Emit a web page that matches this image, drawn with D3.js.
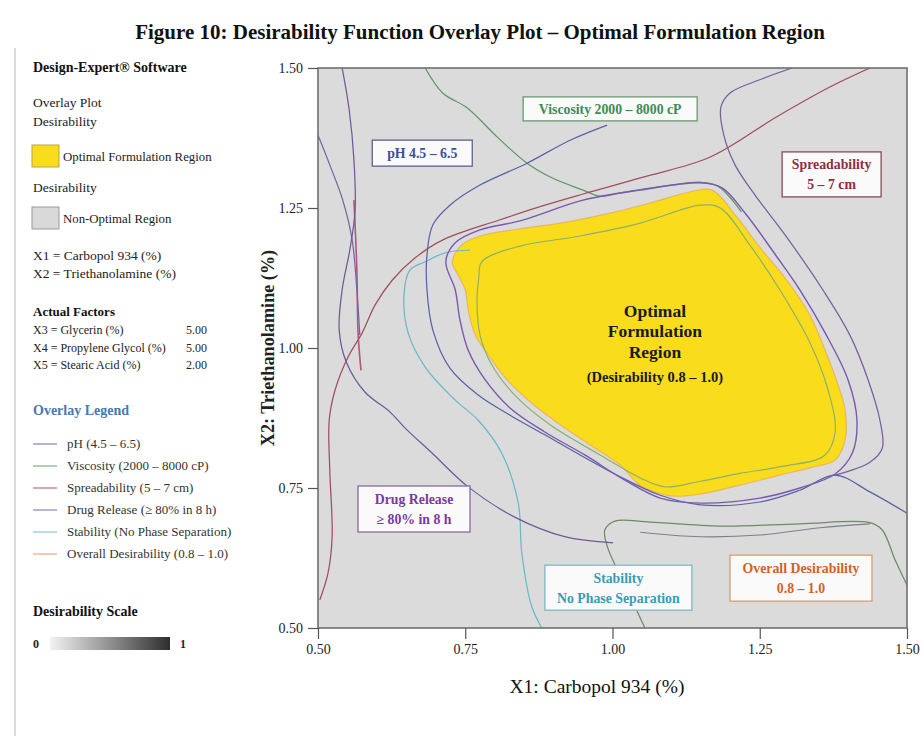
<!DOCTYPE html>
<html><head><meta charset="utf-8">
<script src="https://cdn.jsdelivr.net/npm/d3@7"></script>
<style>
body{margin:0;background:#fff;}
svg{display:block;font-family:"Liberation Serif","Times New Roman",serif;}
</style>
</head><body>
<svg id="chart" width="924" height="736"></svg>
<script>
// ---------- DATA ----------
const xTicks = [0.50, 0.75, 1.00, 1.25, 1.50];
const yTicks = [0.50, 0.75, 1.00, 1.25, 1.50];

// Optimal region (overall desirability 0.8 - 1.0), closed boundary [X1, X2]
const optimalRegion = [[0.728,1.154],[0.744,1.184],[0.775,1.200],[0.843,1.213],[0.911,1.223],[0.996,1.241],[1.064,1.259],[1.132,1.279],[1.169,1.282],[1.211,1.234],[1.250,1.180],[1.296,1.121],[1.335,1.059],[1.361,0.996],[1.383,0.934],[1.395,0.889],[1.395,0.836],[1.378,0.800],[1.335,0.786],[1.284,0.773],[1.216,0.755],[1.149,0.739],[1.098,0.736],[1.047,0.755],[1.013,0.791],[0.962,0.827],[0.911,0.863],[0.860,0.904],[0.817,0.948],[0.789,0.988],[0.767,1.023],[0.755,1.068],[0.750,1.104],[0.738,1.130]];

// pH 4.5 - 6.5 contours
const phMain = [[0.991,1.398],[0.928,1.371],[0.855,1.330],[0.775,1.291],[0.724,1.255],[0.695,1.220],[0.685,1.166],[0.685,1.104],[0.695,1.032],[0.724,0.964],[0.772,0.916],[0.826,0.880],[0.885,0.845],[0.945,0.809],[1.013,0.770],[1.081,0.737],[1.149,0.720],[1.250,0.725],[1.318,0.746],[1.378,0.773],[1.437,0.743],[1.500,0.705]];
const phLeft = [[0.500,1.380],[0.520,1.327],[0.542,1.264],[0.558,1.193],[0.566,1.104],[0.571,1.023]];
const phLower = [[1.047,0.671],[1.149,0.663],[1.250,0.666],[1.352,0.679],[1.437,0.686]];

// Viscosity 2000 - 8000 cP contours
const viscosityTop = [[0.682,1.500],[0.712,1.455],[0.753,1.429],[0.804,1.377],[0.855,1.330],[0.897,1.304],[0.950,1.282],[0.979,1.271],[1.013,1.277],[1.081,1.288],[1.149,1.296],[1.179,1.289],[1.219,1.243]];
const viscosityLower = [[1.055,0.500],[1.021,0.577],[0.992,0.643],[0.987,0.675],[1.004,0.691],[1.064,0.689],[1.183,0.682],[1.318,0.686],[1.437,0.688],[1.458,0.675],[1.480,0.621],[1.500,0.577]];
const viscosityInner = [[0.778,1.154],[0.843,1.182],[0.945,1.200],[1.047,1.223],[1.149,1.255],[1.183,1.250],[1.233,1.184],[1.284,1.104],[1.335,1.010],[1.366,0.925],[1.378,0.850],[1.360,0.808],[1.290,0.789],[1.216,0.776],[1.149,0.762],[1.089,0.752],[1.047,0.768],[0.979,0.809],[0.894,0.863],[0.834,0.916],[0.795,0.970],[0.775,1.023],[0.770,1.086],[0.773,1.125]];

// Spreadability 5 - 7 cm contours
const spreadMain = [[0.503,0.550],[0.517,0.598],[0.524,0.663],[0.520,0.782],[0.519,0.871],[0.529,0.925],[0.551,0.984],[0.575,1.027],[0.597,1.077],[0.626,1.121],[0.665,1.161],[0.712,1.193],[0.809,1.229],[0.885,1.255],[0.950,1.275],[1.052,1.305],[1.166,1.341],[1.279,1.413],[1.369,1.466],[1.437,1.500]];
const spreadLeft = [[0.561,1.264],[0.566,1.139],[0.568,1.027],[0.573,0.960]];

// Drug release >= 80 % in 8 h contours
const drugLeft = [[0.541,1.500],[0.553,1.425],[0.561,1.336],[0.563,1.246],[0.554,1.175],[0.541,1.104],[0.536,1.032],[0.548,0.975],[0.580,0.921],[0.622,0.886],[0.648,0.857],[0.694,0.812],[0.755,0.752],[0.834,0.698],[0.919,0.663],[1.001,0.652]];
const drugRight = [[1.305,1.500],[1.250,1.479],[1.199,1.455],[1.184,1.430],[1.189,1.380],[1.208,1.327],[1.242,1.273],[1.293,1.202],[1.357,1.104],[1.403,1.023],[1.434,0.943],[1.454,0.871],[1.458,0.821],[1.437,0.796],[1.378,0.773]];
const drugRing = [[0.717,1.154],[0.733,1.188],[0.775,1.211],[0.843,1.227],[0.950,1.264],[1.047,1.282],[1.149,1.295],[1.186,1.286],[1.225,1.241],[1.279,1.163],[1.318,1.104],[1.361,1.027],[1.400,0.943],[1.415,0.871],[1.407,0.812],[1.378,0.775],[1.318,0.750],[1.250,0.732],[1.149,0.723],[1.081,0.732],[1.021,0.764],[0.953,0.809],[0.885,0.850],[0.826,0.893],[0.784,0.943],[0.755,0.996],[0.741,1.050],[0.733,1.104]];

// Stability (no phase separation) contour
const stabilityMain = [[0.758,1.175],[0.716,1.170],[0.682,1.154],[0.656,1.139],[0.646,1.095],[0.653,1.027],[0.682,0.966],[0.733,0.907],[0.772,0.871],[0.812,0.812],[0.840,0.723],[0.846,0.634],[0.863,0.538],[0.880,0.500]];

// Legend entries
const legendNames = ["pH (4.5 \u2013 6.5)","Viscosity (2000 \u2013 8000 cP)","Spreadability (5 \u2013 7 cm)","Drug Release (\u2265 80% in 8 h)","Stability (No Phase Separation)","Overall Desirability (0.8 \u2013 1.0)"];
const actualFactors = [["X3 = Glycerin (%)","5.00"],["X4 = Propylene Glycol (%)","5.00"],["X5 = Stearic Acid (%)","2.00"]];

// ---------- STYLE ----------
const colors = {ph:"#5a62a4", visc:"#5e9868", spread:"#a14e5c", drug:"#7a58b0", stab:"#6cb8c6", overall:"#e8905a"};
const legendColors = [colors.ph, colors.visc, colors.spread, colors.drug, colors.stab, colors.overall];

const svg = d3.select("#chart");
const m = {l:318, r:907, t:68, b:628};
const x = d3.scaleLinear().domain([0.5,1.5]).range([m.l, m.r]);
const y = d3.scaleLinear().domain([0.5,1.5]).range([m.b, m.t]);

// title
svg.append("text").attr("x",480).attr("y",39).attr("text-anchor","middle")
  .attr("font-size",21).attr("font-weight","bold").attr("fill","#111")
  .text("Figure 10: Desirability Function Overlay Plot \u2013 Optimal Formulation Region");

// left panel frame line
svg.append("line").attr("x1",15).attr("x2",15).attr("y1",48).attr("y2",736).attr("stroke","#cfcfcf").attr("stroke-width",1.5);

// plot background
svg.append("clipPath").attr("id","plotclip").append("rect").attr("x",m.l).attr("y",m.t).attr("width",m.r-m.l).attr("height",m.b-m.t);
svg.append("rect").attr("x",m.l).attr("y",m.t).attr("width",m.r-m.l).attr("height",m.b-m.t).attr("fill","#dbdbdb");

const g = svg.append("g").attr("clip-path","url(#plotclip)");
const lineOpen = d3.line().x(d=>x(d[0])).y(d=>y(d[1])).curve(d3.curveCatmullRom.alpha(0.5));
const lineClosed = d3.line().x(d=>x(d[0])).y(d=>y(d[1])).curve(d3.curveCatmullRomClosed.alpha(0.5));

// optimal region fill
g.append("path").attr("d",lineClosed(optimalRegion)).attr("fill","#f9dc1c").attr("stroke",colors.overall).attr("stroke-opacity",0.5).attr("stroke-width",1.2);

function drawOpen(data,color,w=1.25){g.append("path").attr("d",lineOpen(data)).attr("fill","none").attr("stroke",color).attr("stroke-width",w).attr("stroke-linejoin","round");}
function drawClosed(data,color,w=1.25){g.append("path").attr("d",lineClosed(data)).attr("fill","none").attr("stroke",color).attr("stroke-width",w);}

drawClosed(viscosityInner, "#8fb06a", 1.2);
drawOpen(viscosityTop, colors.visc);
drawOpen(viscosityLower, "#6f8a66");
drawOpen(phLower, "#7d7f8a", 1.1);
drawOpen(stabilityMain, colors.stab);
drawOpen(spreadMain, colors.spread);
drawOpen(spreadLeft, "#b2577e", 1.6);
drawOpen(phLeft, "#7066a6");
drawOpen(phMain, colors.ph);
drawOpen(drugLeft, "#6e5a98");
drawOpen(drugRight, "#76609e");
drawClosed(drugRing, colors.drug, 1.4);

// frame
svg.append("rect").attr("x",m.l).attr("y",m.t).attr("width",m.r-m.l).attr("height",m.b-m.t)
  .attr("fill","none").attr("stroke","#707070").attr("stroke-width",1.6);

// axes
const xAxis = svg.append("g").attr("transform",`translate(0,${m.b})`)
  .call(d3.axisBottom(x).tickValues(xTicks).tickFormat(d3.format(".2f")).tickSize(11).tickSizeOuter(0).tickPadding(5));
const yAxis = svg.append("g").attr("transform",`translate(${m.l},0)`)
  .call(d3.axisLeft(y).tickValues(yTicks).tickFormat(d3.format(".2f")).tickSize(10).tickSizeOuter(0).tickPadding(5));
[xAxis,yAxis].forEach(a=>{
  a.select(".domain").remove();
  a.selectAll(".tick line").attr("stroke","#555").attr("stroke-width",1.2);
  a.selectAll(".tick text").attr("font-family","Liberation Serif, serif").attr("font-size",14).attr("fill","#222");
});
yAxis.selectAll(".tick text").attr("dy","0.35em");

svg.append("text").attr("x",597).attr("y",693).attr("text-anchor","middle").attr("font-size",19.5).attr("fill","#111").text("X1: Carbopol 934 (%)");
svg.append("text").attr("transform","translate(274,348) rotate(-90)").attr("text-anchor","middle").attr("font-size",18.2).attr("font-weight","bold").attr("fill","#222").text("X2: Triethanolamine (%)");

// annotation boxes (centres in data units)
const annotations = [
  {lines:["pH 4.5 \u2013 6.5"], cx:0.677, cy:1.348, w:100, h:26, color:"#3d4f9e", border:"#5a6290"},
  {lines:["Viscosity 2000 \u2013 8000 cP"], cx:0.996, cy:1.427, w:174, h:24, color:"#3f8a55", border:"#6a9a72"},
  {lines:["Spreadability","5 \u2013 7 cm"], cx:1.372, cy:1.310, w:99, h:45, color:"#8c2f42", border:"#8a4a55"},
  {lines:["Drug Release","\u2265 80% in 8 h"], cx:0.663, cy:0.7125, w:112, h:46, color:"#7a3aa0", border:"#8a6aa0"},
  {lines:["Stability","No Phase Separation"], cx:1.010, cy:0.572, w:147, h:45, color:"#3a9cb4", border:"#7ab8c4"},
  {lines:["Overall Desirability","0.8 \u2013 1.0"], cx:1.320, cy:0.589, w:142, h:46, color:"#d0622c", border:"#e09a6a"}
];
annotations.forEach(a=>{
  const px=x(a.cx), py=y(a.cy);
  svg.append("rect").attr("x",px-a.w/2).attr("y",py-a.h/2).attr("width",a.w).attr("height",a.h)
    .attr("fill","#fafafa").attr("stroke",a.border).attr("stroke-width",1.3);
  const n=a.lines.length;
  a.lines.forEach((t,i)=>{
    svg.append("text").attr("x",px).attr("y",py+(i-(n-1)/2)*20+5).attr("text-anchor","middle")
      .attr("font-size",13.8).attr("font-weight","bold").attr("fill",a.color).text(t);
  });
});

// centre label
const centre = {cx:1.072, cy:1.0};
const cpx = x(centre.cx);
[["Optimal",311,17.5],["Formulation",331,17.5],["Region",352,17.5],["(Desirability 0.8 \u2013 1.0)",377,14.5]].forEach(([t,yy,fs])=>{
  svg.append("text").attr("x",cpx).attr("y",yy+fs*0.35).attr("text-anchor","middle").attr("font-size",fs).attr("font-weight","bold").attr("fill","#1a1a1a").text(t);
});

// ---------- LEFT PANEL ----------
const lp = svg.append("g");
function t(xx,yy,s,opts={}){
  return lp.append("text").attr("x",xx).attr("y",yy).attr("font-size",opts.fs||13.5).attr("font-weight",opts.bold?"bold":"normal")
    .attr("fill",opts.fill||"#222").attr("text-anchor",opts.anchor||"start").text(s);
}
t(33,72,"Design-Expert\u00ae Software",{bold:true,fs:14,fill:"#111"});
t(33,107,"Overlay Plot");
t(33,126,"Desirability");
lp.append("rect").attr("x",32).attr("y",145).attr("width",27).attr("height",22).attr("fill","#f9dc1c").attr("stroke","#b8a448").attr("stroke-width",1);
t(63,161,"Optimal Formulation Region",{fs:12.8});
t(33,192,"Desirability");
lp.append("rect").attr("x",32).attr("y",207).attr("width",27).attr("height",22).attr("fill","#d9d9d9").attr("stroke","#9a9a9a").attr("stroke-width",1);
t(63,223,"Non-Optimal Region",{fs:12.8});
t(33,260,"X1 = Carbopol 934 (%)");
t(33,278,"X2 = Triethanolamine (%)");
t(33,316,"Actual Factors",{bold:true,fs:13,fill:"#111"});
actualFactors.forEach((f,i)=>{
  t(33,334+i*17.5,f[0],{fs:12});
  t(186,334+i*17.5,f[1],{fs:12});
});
t(33,415,"Overlay Legend",{bold:true,fs:14,fill:"#4878b4"});
legendNames.forEach((n,i)=>{
  const yy=444+i*22;
  lp.append("line").attr("x1",33).attr("x2",57).attr("y1",yy).attr("y2",yy).attr("stroke",legendColors[i]).attr("stroke-width",1.6).attr("stroke-opacity",0.6);
  t(67,yy+4,n,{fs:13,fill:"#333"});
});
t(33,616,"Desirability Scale",{bold:true,fs:14,fill:"#111"});
const grad = svg.append("defs").append("linearGradient").attr("id","dscale");
grad.append("stop").attr("offset","0%").attr("stop-color","#f2f2f2");
grad.append("stop").attr("offset","100%").attr("stop-color","#2e2e2e");
t(33,648,"0",{bold:true,fs:12});
lp.append("rect").attr("x",50).attr("y",637).attr("width",120).attr("height",13).attr("fill","url(#dscale)");
t(180,648,"1",{bold:true,fs:12});
</script>
</body></html>
